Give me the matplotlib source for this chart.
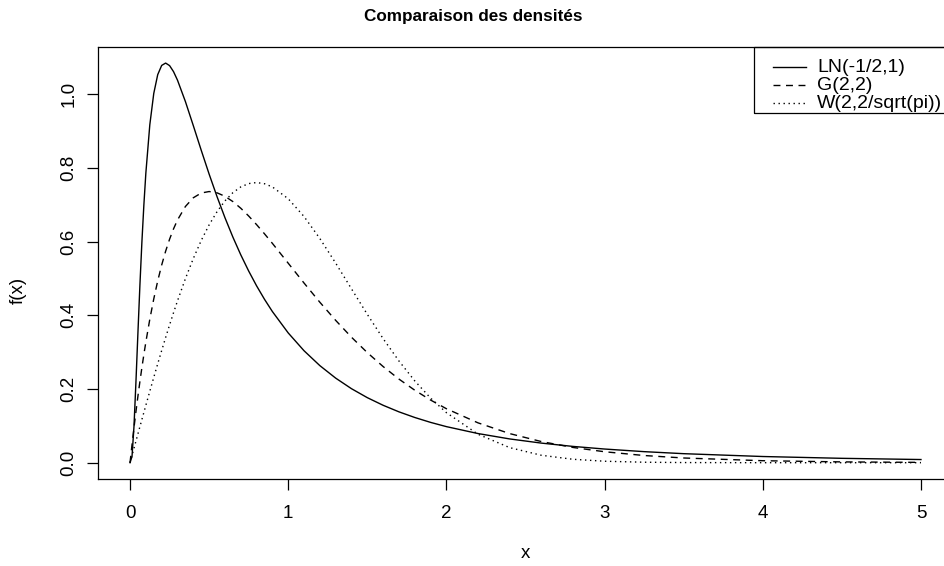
import matplotlib.pyplot as plt
from matplotlib.lines import Line2D
from matplotlib.patches import Rectangle

plt.rcParams['font.family'] = ['Liberation Sans', 'DejaVu Sans']

# densities tabulated on a common grid of x values
x = [0, 0.0125, 0.025, 0.0375, 0.05, 0.0625, 0.075, 0.0875, 0.1, 0.125,
     0.15, 0.175, 0.2, 0.225, 0.25, 0.275, 0.3, 0.35, 0.4, 0.45, 0.5, 0.55,
     0.6, 0.65, 0.7, 0.75, 0.8, 0.85, 0.9, 1.0, 1.1, 1.2, 1.3, 1.4, 1.5,
     1.6, 1.7, 1.8, 1.9, 2.0, 2.2, 2.4, 2.6, 2.8, 3.0, 3.25, 3.5, 4.0, 4.5,
     5.0]

f_ln = [0, 0.0170, 0.0988, 0.2211, 0.354, 0.4826, 0.599, 0.6998, 0.786,
        0.917, 1.002, 1.053, 1.078, 1.0844, 1.0775, 1.0611, 1.038, 0.980,
        0.9146, 0.8479, 0.7831, 0.7219, 0.6649, 0.6123, 0.5641, 0.5201,
        0.4799, 0.4434, 0.4101, 0.3521, 0.3038, 0.2634, 0.2295, 0.2008,
        0.1765, 0.1558, 0.1380, 0.1227, 0.1094, 0.0979, 0.0791, 0.0645,
        0.0532, 0.0442, 0.0371, 0.0300, 0.0245, 0.0168, 0.0119, 0.0086]

f_gamma = [0, 0.0488, 0.0951, 0.1392, 0.1810, 0.2206, 0.2582, 0.2938,
           0.3275, 0.3894, 0.4445, 0.4933, 0.5363, 0.5739, 0.6065, 0.6346,
           0.6586, 0.6952, 0.7189, 0.7318, 0.7358, 0.7323, 0.7229, 0.7086,
           0.6905, 0.6694, 0.6460, 0.6211, 0.5951, 0.5413, 0.4875, 0.4354,
           0.3862, 0.3405, 0.2987, 0.2609, 0.2269, 0.1967, 0.1700, 0.1465,
           0.1081, 0.0790, 0.0574, 0.0414, 0.0297, 0.0195, 0.0128, 0.0054,
           0.0022, 0.0009]

f_weibull = [0, 0.0196, 0.0393, 0.0588, 0.0784, 0.0979, 0.1173, 0.1366,
             0.1558, 0.1939, 0.2315, 0.2684, 0.3044, 0.3397, 0.3739, 0.4071,
             0.4391, 0.4994, 0.5541, 0.6029, 0.6454, 0.6812, 0.7104, 0.7327,
             0.7483, 0.7574, 0.7602, 0.7570, 0.7483, 0.7162, 0.6680, 0.6083,
             0.5416, 0.4717, 0.4025, 0.3366, 0.2760, 0.2220, 0.1753, 0.1358,
             0.0772, 0.0409, 0.0202, 0.0093, 0.0040, 0.0013, 0.0004, 0.0,
             0.0, 0.0]

labels = ["LN(-1/2,1)", "G(2,2)", "W(2,2/sqrt(pi))"]
styles = ['-', (0, (5, 4)), (0, (1, 2.6))]
xticks = [0, 1, 2, 3, 4, 5]
yticks = [0.0, 0.2, 0.4, 0.6, 0.8, 1.0]

W, H = 945, 566
fig = plt.figure(figsize=(W / 100, H / 100), dpi=100)
# plot region runs past the right edge of the figure
ax = fig.add_axes([98.4 / W, 1 - 478.7 / H, (952.6 - 98.4) / W, (478.7 - 47) / H])

lw = 1.0
for ys, ls in zip([f_ln, f_gamma, f_weibull], styles):
    ax.plot(x, ys, color='black', lw=lw, linestyle=ls)

ax.set_xlim(-0.2, 5.2)
ax.set_ylim(-0.0434, 1.128)
ax.set_xticks(xticks)
ax.set_xticklabels([str(t) for t in xticks])
ax.set_yticks(yticks)
ax.set_yticklabels(["%.1f" % t for t in yticks], rotation=90, va='center')
ax.tick_params(direction='out', length=8, width=0.9, labelsize=13.5,
               colors='black')
ax.tick_params(axis='x', pad=11)
ax.tick_params(axis='y', pad=7)
for s in ax.spines.values():
    s.set_linewidth(0.9)

fs = 13.5
fig.text(525 / W, 1 - 553 / H, "x", ha='center', va='center', fontsize=fs)
fig.text(18 / W, 1 - 290 / H, "f(x)", ha='center', va='center', fontsize=fs,
         rotation=90)
fig.text(473 / W, 1 - 17 / H, "Comparaison des densités", ha='center',
         va='center', fontsize=12.3, fontweight='bold')

# legend box in the top right corner, in pixel positions
tr = fig.transFigure
fig.add_artist(Rectangle((754 / W, 1 - 113 / H), 220 / W, 66 / H,
                         transform=tr, fill=False, edgecolor='black',
                         linewidth=0.9))
for i, (lab, ls) in enumerate(zip(labels, styles)):
    yp = 1 - (67 + 18 * i) / H
    fig.add_artist(Line2D([773 / W, 806 / W], [yp, yp], transform=tr,
                          color='black', lw=lw, linestyle=ls))
    fig.text(817 / W, yp, lab, ha='left', va='center', fontsize=14)

fig.savefig("out.png", dpi=100)
